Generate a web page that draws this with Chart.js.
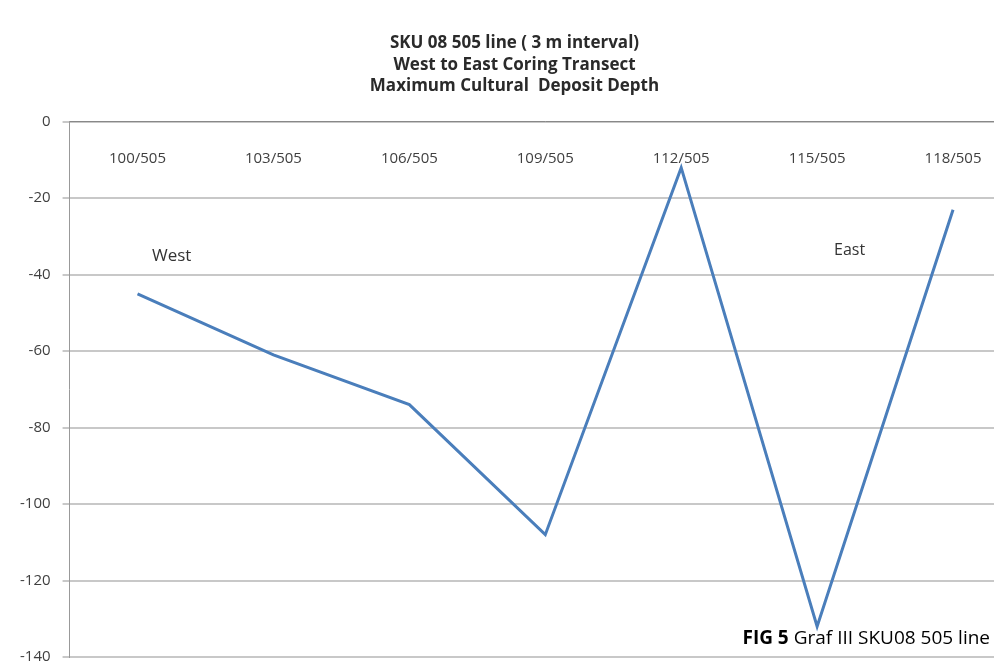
<!DOCTYPE html>
<html>
<head>
<meta charset="utf-8">
<script src="https://cdn.jsdelivr.net/npm/chart.js@4.4.1/dist/chart.umd.min.js"></script>
<style>
  html, body { margin: 0; padding: 0; background: #fff; overflow: hidden; }
  #caja { width: 1040px; height: 678px; }
</style>
</head>
<body>
<div id="caja"><canvas id="graficoProf"></canvas></div>
<script>
// Puntos del transecto (oeste a este) y profundidad máxima en cm
const puntos = ['100/505', '103/505', '106/505', '109/505', '112/505', '115/505', '118/505'];
const profundidad = [-45, -61, -74, -108, -12, -132, -23];
const marcasY = [0, -20, -40, -60, -80, -100, -120, -140];

const titulo = ['SKU 08 505 line ( 3 m interval)', 'West to East Coring Transect', 'Maximum Cultural  Deposit Depth'];

// Etiquetas de categoría debajo del eje superior y textos sueltos
const textosExtra = {
  id: 'textosExtra',
  afterDraw(chart) {
    const c = chart.ctx;
    const x = chart.scales.x;
    const y = chart.scales.y;
    c.save();
    c.fillStyle = '#404040';
    c.font = '15px "Open Sans", sans-serif';
    c.textAlign = 'center';
    c.textBaseline = 'middle';
    puntos.forEach((p, i) => {
      c.fillText(p, x.getPixelForValue(i), y.top + 37);
    });

    c.fillStyle = '#333';
    c.font = '17px "Open Sans", sans-serif';
    c.textAlign = 'left';
    c.fillText('West', 152, 256);
    c.font = '16px "Open Sans", sans-serif';
    c.fillText('East', 834, 250);

    // pie de figura
    c.fillStyle = '#000';
    c.font = '19px "Open Sans", sans-serif';
    c.textAlign = 'right';
    const resto = ' Graf III SKU08 505 line';
    const derecha = 990;
    c.fillText(resto, derecha, 639);
    const ancho = c.measureText(resto).width;
    c.font = 'bold 19px "Open Sans", sans-serif';
    c.fillText('FIG 5', derecha - ancho, 639);
    c.restore();
  }
};

const ctx = document.getElementById('graficoProf').getContext('2d');
new Chart(ctx, {
  type: 'line',
  data: {
    labels: puntos,
    datasets: [{
      label: 'Depth',
      data: profundidad,
      borderColor: '#4a7ebb',
      borderWidth: 3,
      pointRadius: 0,
      tension: 0,
      fill: false
    }]
  },
  options: {
    responsive: true,
    maintainAspectRatio: false,
    animation: false,
    layout: { padding: { left: 8, right: 19, top: 0, bottom: 2 } },
    plugins: {
      legend: { display: false },
      tooltip: { enabled: false },
      title: {
        display: true,
        text: titulo,
        color: '#2a2a2a',
        font: { family: '"Open Sans", sans-serif', size: 17, weight: 'bold', lineHeight: 1.25 },
        padding: { top: 33, bottom: 25 }
      }
    },
    scales: {
      x: {
        position: 'top',
        offset: true,
        grid: { display: true, drawOnChartArea: false, offset: true, tickLength: 0, color: '#888' },
        border: { display: true, color: '#888', width: 1 },
        ticks: { display: false }
      },
      y: {
        min: -140,
        max: 0,
        afterBuildTicks(scale) {
          scale.ticks = marcasY.map(v => ({ value: v }));
        },
        grid: { color: '#c8c8c8', lineWidth: 2, tickLength: 7 },
        border: { display: true, color: '#999', width: 1 },
        ticks: {
          color: '#404040',
          padding: 12,
          font: { family: '"Open Sans", sans-serif', size: 15 }
        }
      }
    }
  },
  plugins: [textosExtra]
});
</script>
</body>
</html>
